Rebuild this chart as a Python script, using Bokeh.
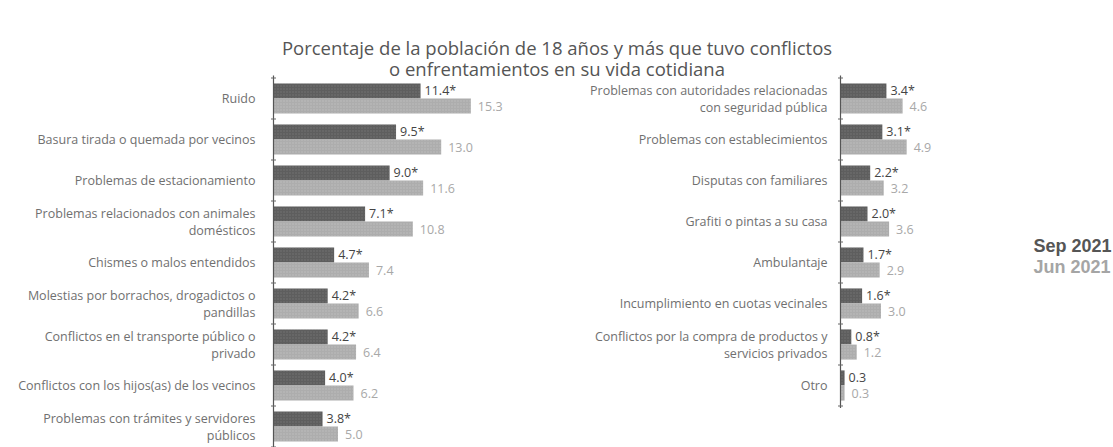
from bokeh.plotting import figure
from bokeh.models import Range1d, ColumnDataSource
from bokeh.transform import dodge
from bokeh.core.properties import value
from bokeh.embed import file_html
from bokeh.resources import INLINE

# ---- data ----
left_categories = [
    "Ruido",
    "Basura tirada o quemada por vecinos",
    "Problemas de estacionamiento",
    "Problemas relacionados con animales\ndomésticos",
    "Chismes o malos entendidos",
    "Molestias por borrachos, drogadictos o\npandillas",
    "Conflictos en el transporte público o\nprivado",
    "Conflictos con los hijos(as) de los vecinos",
    "Problemas con trámites y servidores\npúblicos",
]
left_sep = [11.4, 9.5, 9.0, 7.1, 4.7, 4.2, 4.2, 4.0, 3.8]
left_jun = [15.3, 13.0, 11.6, 10.8, 7.4, 6.6, 6.4, 6.2, 5.0]
left_sig = [True] * 9

right_categories = [
    "Problemas con autoridades relacionadas\ncon seguridad pública",
    "Problemas con establecimientos",
    "Disputas con familiares",
    "Grafiti o pintas a su casa",
    "Ambulantaje",
    "Incumplimiento en cuotas vecinales",
    "Conflictos por la compra de productos y\nservicios privados",
    "Otro",
]
right_sep = [3.4, 3.1, 2.2, 2.0, 1.7, 1.6, 0.8, 0.3]
right_jun = [4.6, 4.9, 3.2, 3.6, 2.9, 3.0, 1.2, 0.3]
right_sig = [True, True, True, True, True, True, True, False]

title_lines = ["Porcentaje de la población de 18 años y más que tuvo conflictos",
               "o enfrentamientos en su vida cotidiana"]
series_names = ["Sep 2021", "Jun 2021"]

# ---- styling ----
DARK = "#5e5e5e"
LIGHT = "#adadad"
LBL = "#707070"
FONT = value("Open Sans")

W, H = 1113, 447
L_AXIS, R_AXIS = 273, 840      # px of the two zero lines
L_SCALE, R_SCALE = 12.9, 13.5  # px per percentage point
ROW0, PITCH = 98, 41           # px of first row centre, row pitch

p = figure(width=W, height=H, output_backend="svg", toolbar_location=None,
           x_range=Range1d(-L_AXIS / L_SCALE, (W - L_AXIS) / L_SCALE),
           y_range=Range1d((H - ROW0) / PITCH, -ROW0 / PITCH),
           x_axis_location=None, y_axis_location=None, min_border=0)
p.extra_x_ranges = {"right": Range1d(-R_AXIS / R_SCALE, (W - R_AXIS) / R_SCALE),
                    "px": Range1d(0, W)}
p.extra_y_ranges = {"px": Range1d(H, 0)}
p.grid.visible = False
p.outline_line_color = None
p.background_fill_color = "white"
p.border_fill_color = "white"


def panel(cats, sep, jun, sig, xr, lbl_off, axis_extra):
    n = len(cats)
    src = ColumnDataSource(dict(
        y=list(range(n)), cat=cats, sep=sep, jun=jun,
        sep_lbl=[f"{v:.1f}" + ("*" if s else "") for v, s in zip(sep, sig)],
        jun_lbl=[f"{v:.1f}" for v in jun],
    ))
    kw = dict(source=src, x_range_name=xr)
    ydark = dodge("y", -0.185, range=p.y_range)
    ylight = dodge("y", 0.185, range=p.y_range)
    p.hbar(y=ydark, left=0, right="sep", height=0.365, fill_color=DARK,
           line_color=None, hatch_pattern="dot", hatch_color="#8a8a8a",
           hatch_scale=3, hatch_alpha=0.5, **kw)
    p.hbar(y=ylight, left=0, right="jun", height=0.365, fill_color=LIGHT,
           line_color=None, hatch_pattern="dot", hatch_color="#d0d0d0",
           hatch_scale=3, hatch_alpha=0.5, **kw)
    p.text(x="sep", y=ydark, text="sep_lbl", x_offset=4, text_baseline="middle",
           text_font=FONT, text_font_size="12.5px", text_color="#444444", **kw)
    p.text(x="jun", y=ylight, text="jun_lbl", x_offset=7, text_baseline="middle",
           text_font=FONT, text_font_size="12.5px", text_color="#a8a8a8", **kw)
    p.text(x=0, y="y", text="cat", x_offset=lbl_off,
           text_align="right", text_baseline="middle", text_font=FONT,
           text_font_size="12.5px", text_color=LBL, text_line_height=1.0, **kw)
    # axis line and ticks
    p.segment(x0=0, x1=0, y0=-0.5 - 0.06, y1=n - 0.5 + axis_extra, line_color="#555555",
              line_width=1.2, x_range_name=xr)
    p.scatter(x=[0] * (n + 1), y=[i - 0.5 for i in range(n + 1)], marker="dash",
              size=5, line_color="#666666", x_range_name=xr)


panel(left_categories, left_sep, left_jun, left_sig, "default", -18, 0.5)
panel(right_categories, right_sep, right_jun, right_sig, "right", -13, 0.05)

# title
p.text(x=[W / 2] * 2, y=[47, 68], text=title_lines, x_range_name="px", y_range_name="px",
       text_align="center", text_baseline="middle", text_font=FONT,
       text_font_size="18.5px", text_color="#555555")

# legend
p.text(x=[1033, 1033], y=[245, 266], text=series_names, x_range_name="px", y_range_name="px",
       text_align="left", text_baseline="middle", text_font=value("Liberation Sans"),
       text_font_style="bold", text_font_size="18px",
       text_color=["#555555", "#a5a5a5"])

open("out.html", "w").write(file_html(p, INLINE))
